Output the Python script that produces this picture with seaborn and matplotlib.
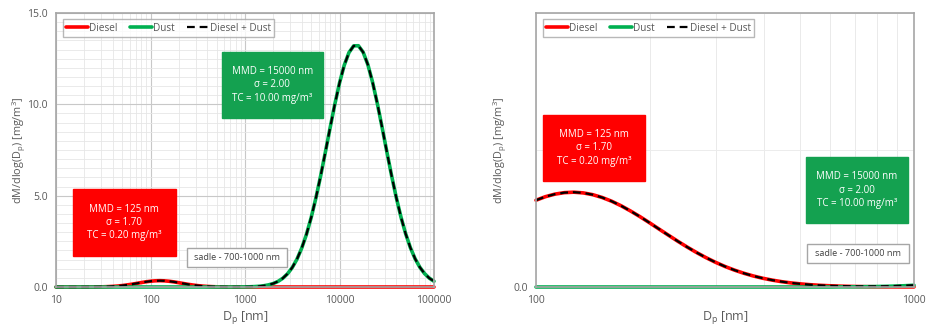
import pandas as pd
import seaborn as sns
import matplotlib.pyplot as plt
from matplotlib.patches import Rectangle
from matplotlib.ticker import LogLocator, MultipleLocator, NullFormatter, FixedLocator

# Диаметры частиц (нм), шаг 0.05 декады
dp_full = [10, 11.2, 12.6, 14.1, 15.8, 17.8, 20.0, 22.4, 25.1, 28.2,
           31.6, 35.5, 39.8, 44.7, 50.1, 56.2, 63.1, 70.8, 79.4, 89.1,
           100, 112, 126, 141, 158, 178, 200, 224, 251, 282,
           316, 355, 398, 447, 501, 562, 631, 708, 794, 891,
           1000, 1122, 1259, 1413, 1585, 1778, 1995, 2239, 2512, 2818,
           3162, 3548, 3981, 4467, 5012, 5623, 6310, 7079, 7943, 8913,
           10000, 11220, 12589, 14125, 15849, 17783, 19953, 22387, 25119, 28184,
           31623, 35481, 39811, 44668, 50119, 56234, 63096, 70795, 79433, 89125,
           100000]
diesel_full = [0.0, 0.0, 0.0, 0.0001, 0.0002, 0.0004, 0.0009, 0.0018, 0.0036, 0.0067,
               0.0121, 0.0207, 0.0338, 0.0528, 0.0785, 0.1114, 0.1509, 0.1949, 0.2402, 0.2824,
               0.3167, 0.3389, 0.3460, 0.3369, 0.3131, 0.2775, 0.2347, 0.1893, 0.1457, 0.1070,
               0.0749, 0.0501, 0.0319, 0.0194, 0.0113, 0.0062, 0.0033, 0.0017, 0.0008, 0.0004,
               0.0002] + [0.0] * 40
dust_full = [0.0] * 36 + [
    0.0004, 0.0008, 0.0017, 0.0033, 0.0064, 0.0121, 0.0223, 0.0397, 0.0691, 0.1167,
    0.192, 0.307, 0.478, 0.723, 1.065, 1.524, 2.124, 2.878, 3.795, 4.866,
    6.072, 7.369, 8.701, 9.994, 11.166, 12.137, 12.833, 13.200, 13.208, 12.857,
    12.174, 11.213, 10.048, 8.759, 7.427, 6.126, 4.916, 3.837, 2.914, 2.153,
    1.547, 1.081, 0.736, 0.486, 0.313]

# Увеличенный участок 100-1000 нм, шаг 0.025 декады
dp_zoom = [100, 105.9, 112.2, 118.9, 125.9, 133.4, 141.3, 149.6, 158.5, 167.9,
           177.8, 188.4, 199.5, 211.3, 223.9, 237.1, 251.2, 266.1, 281.8, 298.5,
           316.2, 335.0, 354.8, 375.8, 398.1, 421.7, 446.7, 473.2, 501.2, 530.9,
           562.3, 595.7, 631.0, 668.3, 707.9, 749.9, 794.3, 841.4, 891.3, 944.1,
           1000]
diesel_zoom = [0.3167, 0.3296, 0.3389, 0.3444, 0.3460, 0.3434, 0.3369, 0.3267, 0.3131, 0.2965,
               0.2775, 0.2567, 0.2347, 0.2120, 0.1893, 0.1671, 0.1457, 0.1256, 0.1070, 0.0901,
               0.0749, 0.0616, 0.0501, 0.0402, 0.0319, 0.0251, 0.0194, 0.0149, 0.0113, 0.0084,
               0.0062, 0.0046, 0.0033, 0.0024, 0.0017, 0.0012, 0.0008, 0.0005, 0.0004, 0.0002,
               0.0002]
dust_zoom = [0.0] * 32 + [0.0004, 0.0006, 0.0008, 0.0012, 0.0017, 0.0024, 0.0033, 0.0046, 0.0064]

series_names = ["Diesel", "Dust", "Diesel + Dust"]
diesel_box = "MMD = 125 nm\nσ = 1.70\nTC = 0.20 mg/m³"
dust_box = "MMD = 15000 nm\nσ = 2.00\nTC = 10.00 mg/m³"
sadle_text = "sadle - 700-1000 nm"

RED = "#ff0000"
GREEN = "#00b050"
BOXGREEN = "#14a150"
FRAME = "#a6a6a6"
TXT = "#595959"

sns.set_style("white")
plt.rcParams["font.family"] = ["Open Sans", "DejaVu Sans"]
plt.rcParams["mathtext.fontset"] = "custom"
plt.rcParams["mathtext.rm"] = "Open Sans"


def make_df(dp, diesel, dust):
    df = pd.DataFrame({"Dp": dp, "Diesel": diesel, "Dust": dust})
    df["Diesel + Dust"] = df["Diesel"] + df["Dust"]
    return df


def draw_curves(ax, df):
    sns.lineplot(data=df, x="Dp", y="Diesel", ax=ax, color=RED, linewidth=2.6,
                 label=series_names[0], clip_on=False)
    sns.lineplot(data=df, x="Dp", y="Dust", ax=ax, color=GREEN, linewidth=2.6,
                 label=series_names[1], clip_on=False)
    sns.lineplot(data=df, x="Dp", y="Diesel + Dust", ax=ax, color="black", linewidth=1.6,
                 dashes=(3.5, 2.2), label=series_names[2], clip_on=False)


def add_box(ax, x0, y0, x1, y1, text, face, color, edge, size=7.0):
    ax.add_patch(Rectangle((x0, y0), x1 - x0, y1 - y0, transform=ax.transAxes,
                           facecolor=face, edgecolor=edge, linewidth=1.0, zorder=5))
    ax.text((x0 + x1) / 2, (y0 + y1) / 2, text, transform=ax.transAxes,
            ha="center", va="center", fontsize=size, color=color, zorder=6,
            linespacing=1.3)


def style_axes(ax, ypad):
    for s in ax.spines.values():
        s.set_color(FRAME)
        s.set_linewidth(1.2)
    ax.tick_params(axis="both", which="both", length=0, labelsize=7.5,
                   labelcolor=TXT, pad=6)
    ax.set_xlabel(r"D$_\mathregular{p}$ [nm]", fontsize=9, color=TXT, labelpad=2)
    ax.set_ylabel(r"dM/dlog(D$_\mathregular{p}$) [mg/m$^\mathregular{3}$]",
                  fontsize=7.8, color=TXT, labelpad=ypad)
    leg = ax.legend(loc="upper left", ncol=3, fontsize=7.2, frameon=True,
                    fancybox=False, edgecolor=FRAME, handlelength=2.2,
                    handletextpad=0.1, columnspacing=1.2, borderpad=0.35,
                    bbox_to_anchor=(0.005, 0.995))
    leg.get_frame().set_linewidth(1.0)
    for t in leg.get_texts():
        t.set_color(TXT)


fig = plt.figure(figsize=(9.27, 3.28), dpi=100)
ax1 = fig.add_axes([56 / 927, 41 / 328, 378 / 927, 274 / 328])
ax2 = fig.add_axes([536 / 927, 41 / 328, 378 / 927, 274 / 328])

# Левая панель: весь диапазон
df_full = make_df(dp_full, diesel_full, dust_full)
draw_curves(ax1, df_full)
ax1.set_xscale("log")
ax1.set_xlim(10, 100000)
ax1.set_ylim(0, 15)
ax1.set_xticks([10, 100, 1000, 10000, 100000])
ax1.set_xticklabels(["10", "100", "1000", "10000", "100000"])
ax1.xaxis.set_minor_locator(LogLocator(base=10, subs=range(2, 10), numticks=20))
ax1.xaxis.set_minor_formatter(NullFormatter())
ax1.set_yticks([0, 5, 10, 15])
ax1.set_yticklabels(["0.0", "5.0", "10.0", "15.0"])
ax1.yaxis.set_minor_locator(MultipleLocator(0.5))
ax1.grid(True, which="major", color="#c8c8c8", linewidth=0.8)
ax1.grid(True, which="minor", color="#e6e6e6", linewidth=0.6)
ax1.set_axisbelow(True)
style_axes(ax1, ypad=-1)
add_box(ax1, 0.439, 0.617, 0.706, 0.858, dust_box, BOXGREEN, "white", BOXGREEN)
add_box(ax1, 0.045, 0.113, 0.317, 0.358, diesel_box, RED, "white", RED)
add_box(ax1, 0.347, 0.073, 0.611, 0.142, sadle_text, "white", "#404040", FRAME, 6.6)

# Правая панель: 100-1000 нм
df_zoom = make_df(dp_zoom, diesel_zoom, dust_zoom)
draw_curves(ax2, df_zoom)
ax2.set_xscale("log")
ax2.set_xlim(100, 1000)
ax2.set_ylim(0, 1.0)
ax2.set_xticks([100, 1000])
ax2.set_xticklabels(["100", "1000"])
ax2.xaxis.set_minor_locator(FixedLocator([200, 300, 400, 500, 600, 700, 800, 900]))
ax2.xaxis.set_minor_formatter(NullFormatter())
ax2.set_yticks([0, 0.5, 1.0])
ax2.set_yticklabels(["0.0", "", ""])
ax2.grid(True, which="major", color="#ececec", linewidth=0.7)
ax2.grid(True, which="minor", axis="x", color="#e6e6e6", linewidth=0.6)
ax2.set_axisbelow(True)
style_axes(ax2, ypad=3)
add_box(ax2, 0.019, 0.387, 0.288, 0.628, diesel_box, RED, "white", RED)
add_box(ax2, 0.714, 0.234, 0.984, 0.474, dust_box, BOXGREEN, "white", BOXGREEN)
add_box(ax2, 0.717, 0.088, 0.987, 0.157, sadle_text, "white", "#404040", FRAME, 6.6)

fig.savefig("out.png", dpi=100)
